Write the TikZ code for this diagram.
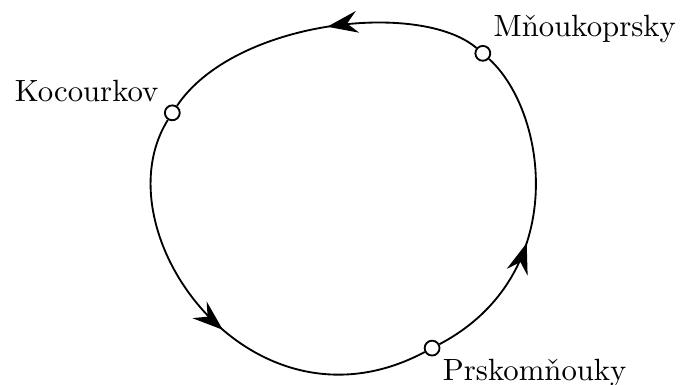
\documentclass[tikz,border=0pt]{standalone}
\usetikzlibrary{arrows.meta,positioning,decorations.markings}

\begin{document}
\begin{tikzpicture}[
town/.style={draw, circle, fill=white, inner sep=0pt, minimum size=0.17cm, semithick},
lbl/.style={inner sep=3.33pt},
road/.style={semithick},
flow/.style={postaction={decorate}, decoration={markings,
mark=at position #1 with {\arrow{Stealth[length=3.5mm,width=2.5mm,inset=1.2mm]}}}}
]
\useasboundingbox (0,0) rectangle (7.82,4.40);

\node[town] (k) at (1.97,3.11) {};
\node[town] (m) at (5.52,3.79) {};
\node[town] (p) at (4.94,0.42) {};

\node[lbl, above left=0pt and 1pt of k.center] (klbl) {Kocourkov};
\node[lbl, above right=0pt of m.center]        (mlbl) {Mňoukoprsky};
\node[lbl, below right=0pt of p.center]        (plbl) {Prskomňouky};

\draw[road, flow=0.52] (k) .. controls (1.12,1.75) and (2.87,-0.68) .. (p);
\draw[road, flow=0.41] (p) .. controls (6.53,1.26) and (6.26,3.12) .. (m);
\draw[road, flow=0.47] (m) .. controls (4.80,4.40) and (2.68,4.17) .. (k);

\end{tikzpicture}
\end{document}
